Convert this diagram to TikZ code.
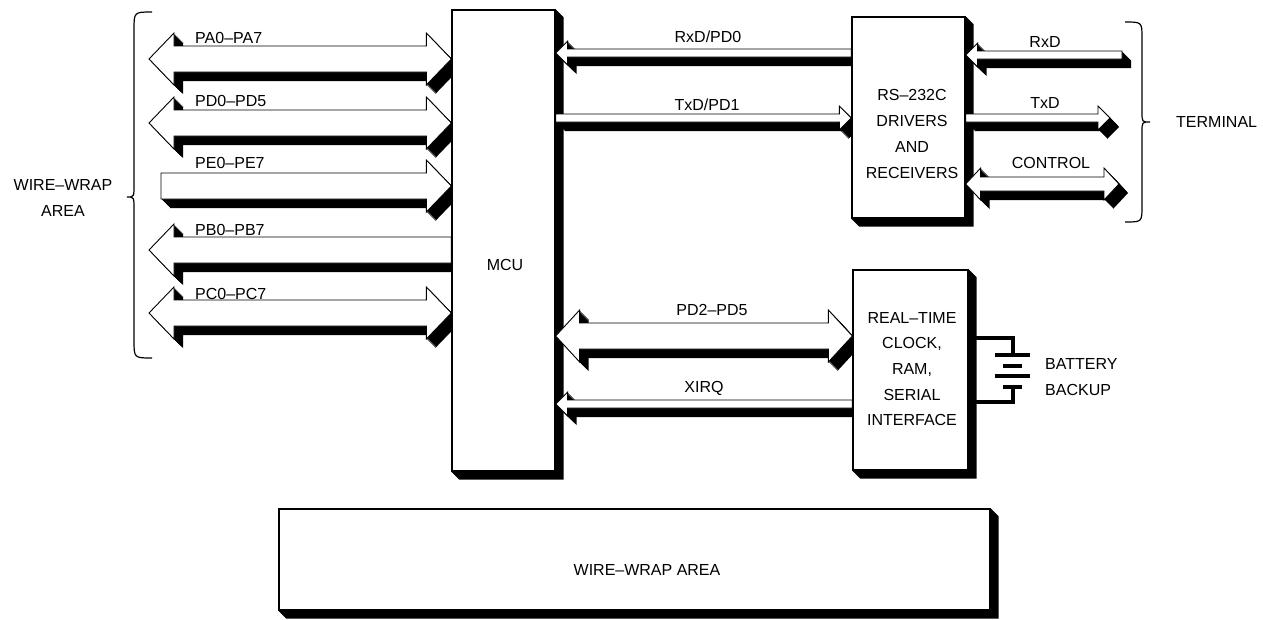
\documentclass[tikz,border=0pt]{standalone}
\usepackage{fontspec}
\setmainfont{Liberation Sans}
\usetikzlibrary{calc,backgrounds}

\tikzset{
  blockbox/.style={draw,line width=1.3pt,fill=white,inner sep=0pt},
  buswhite/.style={draw,line width=0.9pt,fill=white,line join=miter},
  lbl/.style={inner sep=0pt},
  braceline/.style={line width=1.2pt},
  wire/.style={line width=3.3pt},
  plate/.style={line width=4.5pt},
}

% black extrusion below and right of a block
\newcommand{\boxshadow}[1]{%
  \fill (#1.north east) -- ($(#1.north east)+(8,8)$) -- ($(#1.south east)+(8,8)$)
    -- ($(#1.south west)+(8,8)$) -- (#1.south west) -- cycle;}

% bus arrow: white outline over a black extrusion
\newcommand{\drawbus}{%
  \foreach \d in {1,...,9}{\fill[transform canvas={shift={(\d,\d)}}] \buspath;}
  \filldraw[buswhite] \buspath;}
% #1 left end, #2 right end, #3 half shaft, #4 half head, #5 head length
\newcommand{\busboth}[5]{%
  \def\buspath{(#1) -- ($(#1)+(#5,-#4)$) -- ($(#1)+(#5,-#3)$) -- ($(#2)+(-#5,-#3)$)
    -- ($(#2)+(-#5,-#4)$) -- (#2) -- ($(#2)+(-#5,#4)$) -- ($(#2)+(-#5,#3)$)
    -- ($(#1)+(#5,#3)$) -- ($(#1)+(#5,#4)$) -- cycle}\drawbus}
\newcommand{\busright}[5]{%
  \def\buspath{($(#1)+(0,-#3)$) -- ($(#2)+(-#5,-#3)$) -- ($(#2)+(-#5,-#4)$) -- (#2)
    -- ($(#2)+(-#5,#4)$) -- ($(#2)+(-#5,#3)$) -- ($(#1)+(0,#3)$) -- cycle}\drawbus}
\newcommand{\busleft}[5]{%
  \def\buspath{(#1) -- ($(#1)+(#5,-#4)$) -- ($(#1)+(#5,-#3)$) -- ($(#2)+(0,-#3)$)
    -- ($(#2)+(0,#3)$) -- ($(#1)+(#5,#3)$) -- ($(#1)+(#5,#4)$) -- cycle}\drawbus}

\begin{document}
\begin{tikzpicture}[x=1pt,y=-1pt,font=\fontsize{16}{25.7}\selectfont]
\useasboundingbox (0,0) rectangle (1263,619);

% blocks
\node[blockbox,minimum width=103pt,minimum height=461pt] (mcu) at (503.5,240.5) {};
\node[blockbox,minimum width=113pt,minimum height=201pt] (rs) at (908.5,117.5) {};
\node[blockbox,minimum width=115pt,minimum height=200pt] (rtc) at (910.5,370) {};
\node[blockbox,minimum width=711pt,minimum height=101pt] (wwa) at (634.5,559.5) {};
\node[lbl] (mcutext) at (505,265) {MCU};
\node[lbl,align=center] (rstext) at (912,134) {RS–232C\\DRIVERS\\AND\\RECEIVERS};
\node[lbl,align=center] (rtctext) at (912,369) {REAL–TIME\\CLOCK,\\RAM,\\SERIAL\\INTERFACE};
\node[lbl] (wwatext) at (647,570) {WIRE–WRAP AREA};

% bus ends
\coordinate (pa) at (149,59);  \coordinate (paM) at (mcu.west |- pa);
\coordinate (pd) at (149,123); \coordinate (pdM) at (mcu.west |- pd);
\coordinate (pe) at (161,186); \coordinate (peM) at (mcu.west |- pe);
\coordinate (pb) at (149,250); \coordinate (pbM) at (mcu.west |- pb);
\coordinate (pc) at (149,313); \coordinate (pcM) at (mcu.west |- pc);
\coordinate (rxdM) at (mcu.east |- 0,53);   \coordinate (rxdR) at (rs.west |- rxdM);
\coordinate (txdM) at (mcu.east |- 0,118);  \coordinate (txdR) at (rs.west |- txdM);
\coordinate (pdxM) at (mcu.east |- 0,336);  \coordinate (pdxR) at (rtc.west |- pdxM);
\coordinate (xirqM) at (mcu.east |- 0,404); \coordinate (xirqR) at (rtc.west |- xirqM);
\coordinate (rxdT) at (rs.east |- 0,55);  \coordinate (rxdE) at (1122,55);
\coordinate (txdT) at (rs.east |- 0,118); \coordinate (txdE) at (1110,118);
\coordinate (ctlT) at (rs.east |- 0,184); \coordinate (ctlE) at (1119,184);

\begin{pgfonlayer}{background}
\boxshadow{mcu}
\boxshadow{rs}
\boxshadow{rtc}
\boxshadow{wwa}
\busboth{pa}{paM}{13}{26}{25}
\busboth{pd}{pdM}{13}{26}{25}
\busright{pe}{peM}{13}{26}{25}
\busleft{pb}{pbM}{13}{26}{25}
\busboth{pc}{pcM}{13}{26}{25}
\busleft{rxdM}{rxdR}{4}{12}{12}
\busright{txdM}{txdR}{4}{12}{12}
\busboth{pdxM}{pdxR}{13}{26}{24}
\busleft{xirqM}{xirqR}{4}{12}{12}
\busleft{rxdT}{rxdE}{4}{12}{12}
\busright{txdT}{txdE}{4}{12}{12}
\busboth{ctlT}{ctlE}{7}{16}{15}
\end{pgfonlayer}

% bus labels
\node[lbl,anchor=base west] (lpa) at (195,43.5) {PA0–PA7};
\node[lbl,anchor=base west] (lpd) at (195,106.8) {PD0–PD5};
\node[lbl,anchor=base west] (lpe) at (195,168.5) {PE0–PE7};
\node[lbl,anchor=base west] (lpb) at (195,235) {PB0–PB7};
\node[lbl,anchor=base west] (lpc) at (195,299) {PC0–PC7};
\node[lbl,anchor=base] (lrxd) at (708,42) {RxD/PD0};
\node[lbl,anchor=base] (ltxd) at (707,110) {TxD/PD1};
\node[lbl,anchor=base] (lpdx) at (712,315) {PD2–PD5};
\node[lbl,anchor=base] (lxirq) at (704,392) {XIRQ};
\node[lbl,anchor=base] (lrxdT) at (1045,47) {RxD};
\node[lbl,anchor=base] (ltxdT) at (1045,108) {TxD};
\node[lbl,anchor=base] (lctl) at (1051,168) {CONTROL};

% braces
\draw[braceline] (152,12) .. controls (134,12) .. (134,30) -- (134,185)
  .. controls (134,197) .. (127,197) .. controls (134,197) .. (134,209)
  -- (134,340) .. controls (134,358) .. (152,358);
\node[lbl,align=center] (wwaside) at (63,198) {WIRE–WRAP\\AREA};
\draw[braceline] (1125,22) .. controls (1142,22) .. (1142,38) -- (1142,112)
  .. controls (1142,122) .. (1150,122) .. controls (1142,122) .. (1142,132)
  -- (1142,206) .. controls (1142,222) .. (1125,222);
\node[lbl,anchor=west] (term) at (1176,122) {TERMINAL};

% battery
\coordinate (btop) at (1013,355);
\coordinate (bbot) at (1013,387);
\draw[wire] (rtc.east |- 0,338) -| (btop);
\draw[wire] (rtc.east |- 0,402) -| (bbot);
\draw[plate] (995,355) -- (1030,355);
\draw[plate] (1003,366) -- (1022,366);
\draw[plate] (995,376) -- (1030,376);
\draw[plate] (1003,387) -- (1022,387);
\node[lbl,align=left,anchor=west] (batt) at (1045,377) {BATTERY\\BACKUP};
\end{tikzpicture}
\end{document}
